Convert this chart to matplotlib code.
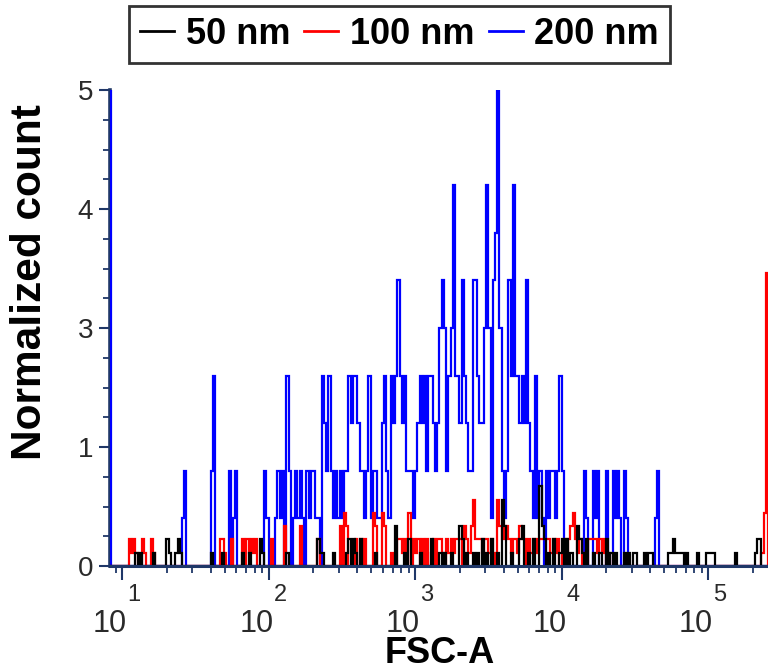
import numpy as np
import matplotlib
matplotlib.use("Agg")
import matplotlib.pyplot as plt
from matplotlib.ticker import FixedLocator, FixedFormatter, LogLocator, NullFormatter
from matplotlib.lines import Line2D
from matplotlib.font_manager import FontProperties

# ---------------- data ----------------
# FSC-A histogram channels: log-spaced, 66 channels per decade
bins_per_decade = 66
first_edge_log10 = 0.9065
n_bins = 298
x_limits = (8.22, 2.55e5)

# event counts per channel, one base-36 digit per channel (Z = off scale)
blue_counts = (
    "Z000000000" "0000000000" "0000000000" "0001200000" "0000002400"
    "0000201200" "0000000000" "2100012120" "4201212102" "1221104324"
    "2121212243" "4432212412" "2113421434" "6434222123" "4342443235"
    "6524584436" "4322664335" "85167A5212" "6484434363" "2141210212"
    "2124200000" "0000210021" "2000200212" "1021000000" "0000001200"
    "0000000000" "0000000000" "0000000000" "0000000000" "00000000"
)
red_counts = (
    "0000000002" "1210021002" "1000000000" "0000000000" "0000000000"
    "2210020000" "2021212000" "0002000003" "0000003000" "0000200000"
    "0000304300" "0202020004" "3004300100" "2212040212" "0202012022"
    "1021212220" "3213522212" "2121053233" "2122132202" "1221222221"
    "2120121234" "2120102222" "1212010000" "0000000000" "0000000000"
    "0000000000" "0000000000" "0000000000" "0000000000" "000014M0"
)
black_counts = (
    "0000000000" "0010100000" "1000002100" "1210000000" "0000001000"
    "0100000000" "1001000021" "0000000000" "1000000000" "0000211000"
    "0100000120" "2102000000" "1000000003" "0001020000" "1000020001"
    "0100100032" "0100101020" "1020010530" "0100023001" "0200632010"
    "2001202010" "0321020010" "0100201010" "0010101100" "0101100000"
    "0011211110" "1000010001" "1110000000" "0010000000" "01220000"
)
# normalisation factor (count -> normalized count) per sample
blue_scale = 0.5
red_scale = 0.1397
black_scale = 0.1397

series_labels = ["50 nm", "100 nm", "200 nm"]
series_colors = ["#000000", "#ff0000", "#0000ff"]

y_tick_values = [0, 1.25, 2.5, 3.75, 5]
y_tick_labels = ["0", "1", "3", "4", "5"]
x_tick_values = [1e1, 1e2, 1e3, 1e4, 1e5]
x_tick_bases = ["10", "10", "10", "10", "10"]
x_tick_exponents = ["1", "2", "3", "4", "5"]

# ---------------- figure ----------------
narrow = ["Liberation Sans Narrow", "Liberation Sans", "DejaVu Sans"]
navy = "#1f3768"
label_grey = "#2a2a2a"

def parse(s):
    return np.array([int(c, 36) for c in s], dtype=float)

edges = 10 ** (first_edge_log10 + np.arange(n_bins + 1) / bins_per_decade)
blue = parse(blue_counts) * blue_scale
red = parse(red_counts) * red_scale
black = parse(black_counts) * black_scale

fig = plt.figure(figsize=(7.68, 6.71), dpi=100)
ax = fig.add_axes([0.1432, 0.15648, 0.8568, 0.70939])
ax.set_xscale("log")

ax.stairs(blue, edges, color=series_colors[2], lw=1.6, baseline=0)
ax.stairs(red, edges, color=series_colors[1], lw=1.6, baseline=0)
ax.stairs(black, edges, color=series_colors[0], lw=1.6, baseline=0)

ax.set_xlim(*x_limits)
ax.set_ylim(0, 5)

for s in ["top", "right"]:
    ax.spines[s].set_visible(False)
ax.spines["left"].set_color(navy)
ax.spines["left"].set_linewidth(2.6)
ax.spines["left"].set_zorder(0.5)
ax.spines["bottom"].set_color(navy)
ax.spines["bottom"].set_linewidth(2.2)
ax.spines["bottom"].set_zorder(5)

ax.yaxis.set_major_locator(FixedLocator(y_tick_values))
ax.yaxis.set_major_formatter(FixedFormatter(y_tick_labels))
ax.yaxis.set_minor_locator(FixedLocator(np.arange(0, 5.01, 0.3125)))
ax.xaxis.set_major_locator(FixedLocator(x_tick_values))
ax.xaxis.set_major_formatter(NullFormatter())
ax.xaxis.set_minor_locator(LogLocator(base=10, subs=np.arange(2, 10), numticks=20))
ax.xaxis.set_minor_formatter(NullFormatter())

ax.tick_params(axis="y", which="major", length=8, width=1.5, color=navy, pad=4,
               labelsize=20, labelcolor=label_grey)
ax.tick_params(axis="y", which="minor", length=5, width=1.3, color=navy)
ax.tick_params(axis="x", which="major", length=10, width=1.5, color=navy)
ax.tick_params(axis="x", which="minor", length=5, width=1.3, color=navy)
for lab in ax.get_yticklabels():
    lab.set_family(narrow)

# decade labels "10" with a raised exponent
for v, base, ex in zip(x_tick_values, x_tick_bases, x_tick_exponents):
    ax.annotate(base, xy=(v, 0), xycoords=("data", "axes fraction"),
                xytext=(3.2, -47.5), textcoords="offset points", ha="right",
                va="baseline", fontsize=22, color=label_grey, family=narrow,
                annotation_clip=False)
    ax.annotate(ex, xy=(v, 0), xycoords=("data", "axes fraction"),
                xytext=(3.6, -25.5), textcoords="offset points", ha="left",
                va="baseline", fontsize=17, color=label_grey, family=narrow,
                annotation_clip=False)

fig.text(0.039, 0.5797, "Normalized count", rotation=90, ha="center", va="center",
         fontsize=30.5, fontweight="bold", family=["Liberation Sans", "DejaVu Sans"])
fig.text(0.573, 0.0255, "FSC-A", ha="center", va="center",
         fontsize=26, fontweight="bold", family=["Liberation Sans", "DejaVu Sans"])

handles = [Line2D([], [], color=c, lw=2) for c in series_colors]
leg = fig.legend(handles, series_labels, loc="center", bbox_to_anchor=(0.52, 0.949),
                 ncol=3, frameon=True, fancybox=False, edgecolor="black",
                 prop=FontProperties(family=narrow, weight="bold", size=26),
                 handlelength=0.95, handletextpad=0.32, columnspacing=0.39,
                 borderpad=0.3, borderaxespad=0)
leg.get_frame().set_linewidth(2)

fig.savefig("out.png", dpi=100)
